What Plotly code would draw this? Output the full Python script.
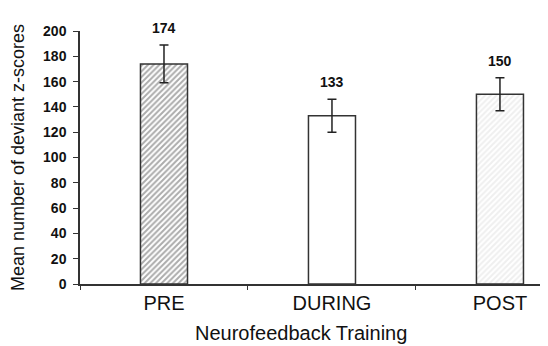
import plotly.graph_objects as go

categories = ["PRE", "DURING", "POST"]
means = [174, 133, 150]
errors = [15, 13, 13]
labels = ["174", "133", "150"]
bg_colors = ["#acacac", "#ffffff", "#efefef"]
fg_colors = ["#989898", "#ffffff", "#d4d4d4"]
shapes = ["/", "", "/"]

BOLDF = "Liberation Sans, Arial"

fig = go.Figure()
fig.add_trace(go.Bar(
    x=categories, y=means, width=0.28,
    marker=dict(color=bg_colors, line=dict(color="#333333", width=1.5),
                pattern=dict(shape=shapes, bgcolor=bg_colors, fgcolor=fg_colors,
                             size=4, solidity=0.5, fillmode="replace")),
    error_y=dict(type="data", array=errors, color="#222", thickness=1.5, width=4.5),
    showlegend=False,
))
for c, m, e, t in zip(categories, means, errors, labels):
    fig.add_annotation(x=c, y=m + e, text="<b>" + t + "</b>", showarrow=False, yshift=17,
                       font=dict(family=BOLDF, size=14, color="#111"))

fig.add_annotation(text="Neurofeedback Training", xref="paper", yref="paper",
                   x=0.472, y=-0.194, xanchor="center", yanchor="middle",
                   showarrow=False, font=dict(size=20, color="#111"))

fig.update_layout(
    width=540, height=338,
    margin=dict(l=72, r=0, t=23, b=62),
    plot_bgcolor="white", paper_bgcolor="white",
    font=dict(family="Liberation Sans, Arial", color="#111"),
)
fig.update_xaxes(
    range=[-0.5, 2.286], showline=True, linecolor="#333", linewidth=1.5,
    ticks="outside", tickson="boundaries", ticklen=4, tickcolor="#333",
    tickfont=dict(size=20), showgrid=False, automargin=False,
)
fig.update_yaxes(
    range=[0, 200], dtick=20, showline=True, linecolor="#333", linewidth=1.5,
    ticks="outside", ticklen=5, tickcolor="#333", showgrid=False, zeroline=False,
    automargin=False, ticklabelstandoff=4,
    tickfont=dict(family=BOLDF, size=14, weight="bold"),
    title=dict(text="Mean number of deviant z-scores", font=dict(size=18)),
)
fig.write_html("out.html")
